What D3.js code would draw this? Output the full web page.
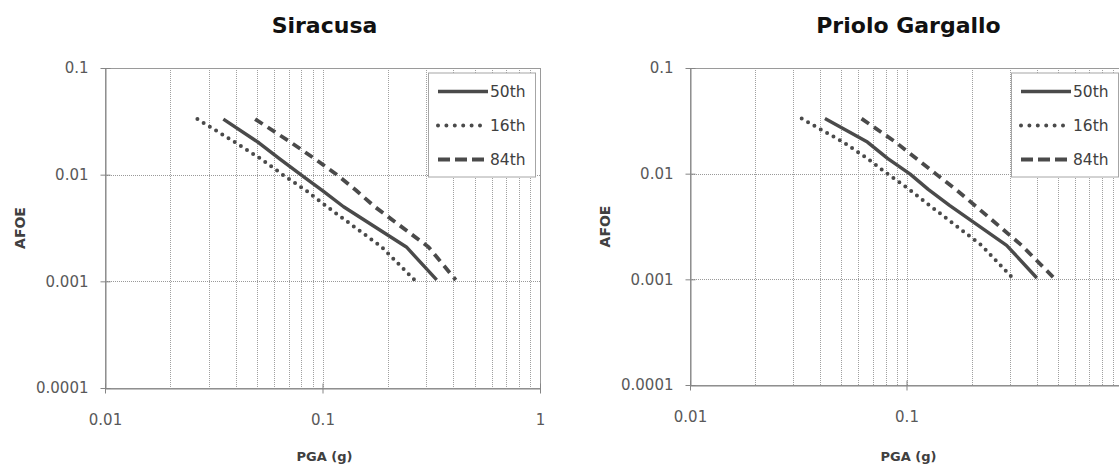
<!DOCTYPE html>
<html>
<head>
<meta charset="utf-8">
<script src="https://cdn.jsdelivr.net/npm/d3@7"></script>
<style>
  body { margin: 0; background: #fff; }
  svg { display: block; font-family: "DejaVu Sans", sans-serif; }
</style>
</head>
<body>
<svg id="chart"></svg>
<script>
// 年超越频率 (AFOE)，各曲线共用
const afoe = [0.0332, 0.0199, 0.0139, 0.0099, 0.0071, 0.0050, 0.0021, 0.00103];

// Siracusa 的 PGA (g)
const siracusa50 = [0.035, 0.051, 0.064, 0.080, 0.100, 0.125, 0.243, 0.335];
const siracusa16 = [0.0266, 0.040, 0.0525, 0.066, 0.084, 0.105, 0.187, 0.265];
const siracusa84 = [0.049, 0.072, 0.093, 0.117, 0.143, 0.174, 0.307, 0.41];

// Priolo Gargallo 的 PGA (g)
const priolo50 = [0.042, 0.066, 0.082, 0.104, 0.126, 0.158, 0.29, 0.40];
const priolo16 = [0.0328, 0.051, 0.066, 0.082, 0.103, 0.128, 0.222, 0.309];
const priolo84 = [0.062, 0.089, 0.111, 0.137, 0.169, 0.207, 0.340, 0.48];

const seriesNames = ["50th", "16th", "84th"];
const xTicks = [0.01, 0.1, 1];
const xTickLabels = ["0.01", "0.1", "1"];
const yTicks = [0.0001, 0.001, 0.01, 0.1];
const yTickLabels = ["0.0001", "0.001", "0.01", "0.1"];

const width = 1119;
const height = 464;

const svg = d3.select("#chart")
    .attr("width", width)
    .attr("height", height);

const lineColor = "#4a4a4a";
const lineStyles = {
  "50th": { width: 3.4, dash: null, cap: "butt", legendDash: null },
  "16th": { width: 4, dash: "0,7.3", cap: "round", legendDash: "0,8.4" },
  "84th": { width: 3.8, dash: "9,6", cap: "butt", legendDash: "12,5" }
};

// 两个子图的位置
const panels = [
  { title: "Siracusa", x0: 105, x1: 540, y0: 388, y1: 68,
    series: [siracusa50, siracusa16, siracusa84] },
  { title: "Priolo Gargallo", x0: 690, x1: 1123, y0: 385, y1: 68,
    series: [priolo50, priolo16, priolo84] }
];

function drawPanel(p) {
  const g = svg.append("g");

  const x = d3.scaleLog().domain([0.01, 1]).range([p.x0, p.x1]);
  const y = d3.scaleLog().domain([0.0001, 0.1]).range([p.y0, p.y1]);

  // 网格线（点线）
  const vGrid = x.ticks().filter(d => d > 0.0101 && d < 0.99);
  g.append("g").selectAll("line")
      .data(vGrid)
      .enter().append("line")
      .attr("x1", d => Math.round(x(d)) + 0.5)
      .attr("x2", d => Math.round(x(d)) + 0.5)
      .attr("y1", p.y1)
      .attr("y2", p.y0)
      .attr("stroke", "#a0a0a0")
      .attr("stroke-dasharray", "1,1");

  g.append("g").selectAll("line")
      .data(yTicks.slice(1, -1))
      .enter().append("line")
      .attr("x1", p.x0)
      .attr("x2", p.x1)
      .attr("y1", d => Math.round(y(d)) + 0.5)
      .attr("y2", d => Math.round(y(d)) + 0.5)
      .attr("stroke", "#999")
      .attr("stroke-dasharray", "1,1");

  // 绘图区边框
  g.append("rect")
      .attr("x", p.x0 + 0.5)
      .attr("y", p.y1 + 0.5)
      .attr("width", p.x1 - p.x0)
      .attr("height", p.y0 - p.y1)
      .attr("fill", "none")
      .attr("stroke", "#9a9a9a");

  // 坐标轴
  const xAxis = g.append("g")
      .attr("transform", `translate(0,${p.y0 + 0.5})`)
      .call(d3.axisBottom(x)
        .tickValues(xTicks)
        .tickFormat((d, i) => xTickLabels[i])
        .tickSizeInner(5)
        .tickSizeOuter(0)
        .tickPadding(21));
  xAxis.selectAll(".tick line").attr("y1", -5);

  const yAxis = g.append("g")
      .attr("transform", `translate(${p.x0 + 0.5},0)`)
      .call(d3.axisLeft(y)
        .tickValues(yTicks)
        .tickFormat((d, i) => yTickLabels[i])
        .tickSizeInner(5)
        .tickSizeOuter(0)
        .tickPadding(12));
  yAxis.selectAll(".tick line").attr("x1", 5);

  [xAxis, yAxis].forEach(ax => {
    ax.select(".domain").attr("stroke", "#858585");
    ax.selectAll(".tick line").attr("stroke", "#858585");
    ax.selectAll(".tick text")
        .attr("fill", "#595959")
        .style("font-family", "DejaVu Sans, sans-serif")
        .style("font-size", "15px");
  });

  // 曲线
  const line = d3.line()
      .x(d => x(d[0]))
      .y(d => y(d[1]));

  seriesNames.forEach((name, i) => {
    const st = lineStyles[name];
    const pts = p.series[i].map((v, k) => [v, afoe[k]]);
    g.append("path")
        .datum(pts)
        .attr("d", line)
        .attr("fill", "none")
        .attr("stroke", lineColor)
        .attr("stroke-width", st.width)
        .attr("stroke-linecap", st.cap)
        .attr("stroke-linejoin", "round")
        .attr("stroke-dasharray", st.dash);
  });

  // 图例
  const lx = p.x1 - 112;
  const ly = p.y1 + 4.5;
  const legend = g.append("g").attr("transform", `translate(${lx},${ly})`);
  legend.append("rect")
      .attr("x", 0.5)
      .attr("y", 0.5)
      .attr("width", 107)
      .attr("height", 104)
      .attr("fill", "#fff")
      .attr("stroke", "#a6a6a6");

  seriesNames.forEach((name, i) => {
    const st = lineStyles[name];
    const yy = 19 + i * 34;
    legend.append("line")
        .attr("x1", 10)
        .attr("x2", 60)
        .attr("y1", yy)
        .attr("y2", yy)
        .attr("stroke", lineColor)
        .attr("stroke-width", st.width)
        .attr("stroke-linecap", st.cap)
        .attr("stroke-dasharray", st.legendDash);
    legend.append("text")
        .attr("x", 62)
        .attr("y", yy + 5.5)
        .attr("fill", "#404040")
        .style("font-size", "15.5px")
        .text(name);
  });

  // 标题和轴标题
  const cx = (p.x0 + p.x1) / 2;
  g.append("text")
      .attr("x", cx + 2)
      .attr("y", 33)
      .attr("text-anchor", "middle")
      .attr("font-weight", "bold")
      .attr("fill", "#111")
      .style("font-size", "22px")
      .text(p.title);

  g.append("text")
      .attr("x", cx + 2)
      .attr("y", 461)
      .attr("text-anchor", "middle")
      .attr("font-weight", "bold")
      .attr("fill", "#404040")
      .style("font-size", "13px")
      .text("PGA (g)");

  g.append("text")
      .attr("transform", `translate(${p.x0 - 80},${(p.y0 + p.y1) / 2}) rotate(-90)`)
      .attr("text-anchor", "middle")
      .attr("font-weight", "bold")
      .attr("fill", "#404040")
      .style("font-size", "14px")
      .text("AFOE");
}

panels.forEach(drawPanel);
</script>
</body>
</html>
